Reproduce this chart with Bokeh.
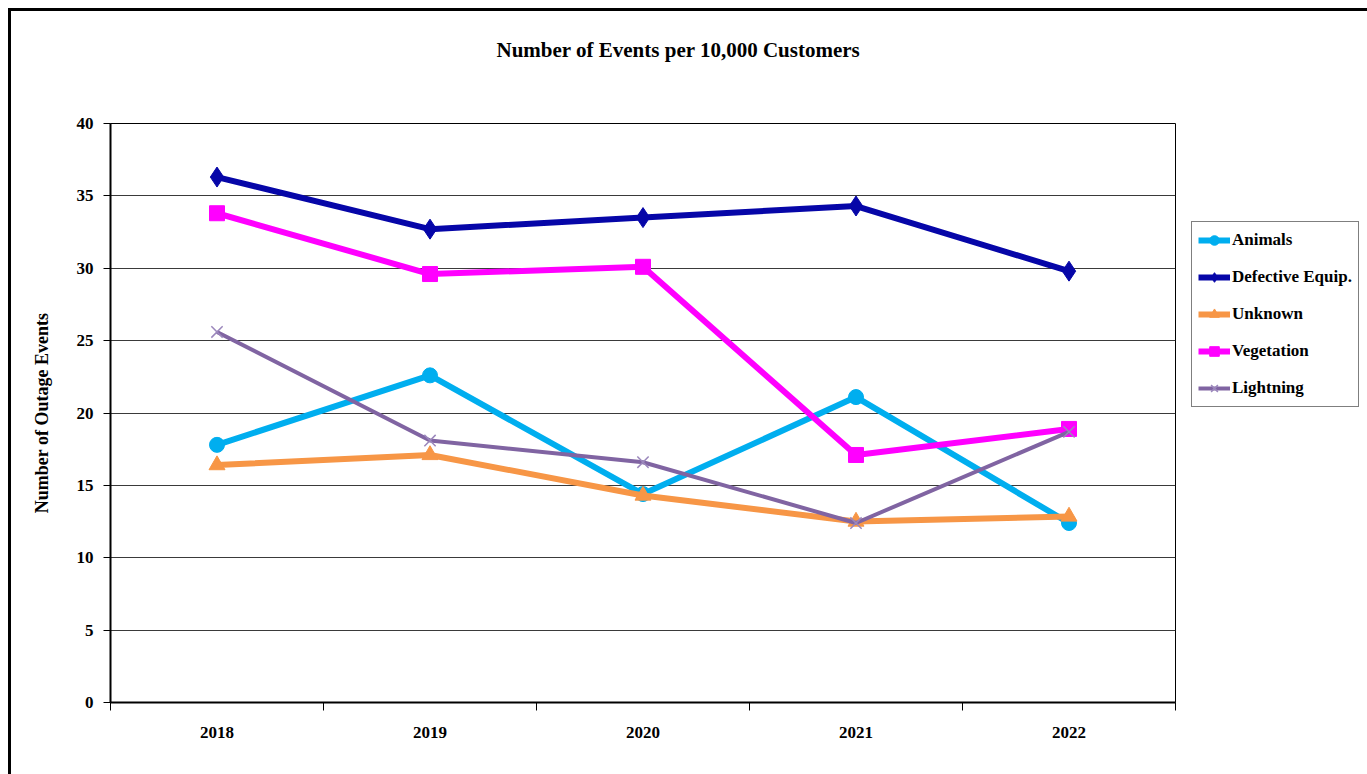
from bokeh.plotting import figure
from bokeh.layouts import row, column
from bokeh.models import Range1d, FixedTicker, Legend, LegendItem, Label
from bokeh.embed import file_html
from bokeh.resources import INLINE

years = [2018, 2019, 2020, 2021, 2022]
animals = [17.8, 22.6, 14.4, 21.1, 12.4]
defective = [36.3, 32.7, 33.5, 34.3, 29.8]
unknown = [16.4, 17.1, 14.3, 12.5, 12.85]
vegetation = [33.8, 29.6, 30.1, 17.1, 18.9]
lightning = [25.6, 18.1, 16.6, 12.4, 18.7]

series = [
    ("Animals", animals, "#00AEEF", "circle", 15, 6),
    ("Defective Equip.", defective, "#0606A8", "diamond", 20, 6),
    ("Unknown", unknown, "#F79646", "triangle", 16, 6),
    ("Vegetation", vegetation, "#FF00FF", "square", 15, 6),
    ("Lightning", lightning, "#8064A2", "x", 16, 4),
]

SERIF = "Liberation Serif"
TOP_H = 60

# strip carrying the chart sub-title
t = figure(width=1356, height=TOP_H, output_backend="svg", toolbar_location=None,
           x_range=Range1d(0, 1), y_range=Range1d(0, 1), min_border=0)
t.axis.visible = False
t.grid.visible = False
t.outline_line_color = None
t.border_fill_color = "white"
t.background_fill_color = "white"
t.add_layout(Label(x=667, y=22, x_units="screen", y_units="screen",
                   text="Number of Events per 10,000 Customers",
                   text_font=SERIF, text_font_style="bold", text_font_size="21px",
                   text_align="center", text_baseline="middle", text_color="black"))

p = figure(width=1180, height=763 - TOP_H, output_backend="svg", toolbar_location=None,
           x_range=Range1d(years[0] - 0.5, years[-1] + 0.5), y_range=Range1d(0, 40),
           min_border_left=99, min_border_right=16, min_border_top=112 - TOP_H,
           min_border_bottom=72)
p.outline_line_color = "black"
p.outline_line_width = 1
p.background_fill_color = "white"
p.border_fill_color = "white"

p.xgrid.visible = False
p.ygrid.ticker = FixedTicker(ticks=list(range(0, 41, 5)))
p.ygrid.grid_line_color = "#3a3a3a"
p.ygrid.grid_line_width = 1.2

# x axis: labels at year centres, ticks at boundaries
p.xaxis.ticker = FixedTicker(ticks=years, minor_ticks=[y - 0.5 for y in years] + [years[-1] + 0.5])
p.xaxis.major_tick_out = 0
p.xaxis.major_tick_in = 0
p.xaxis.minor_tick_out = 8
p.xaxis.minor_tick_in = 0
p.xaxis.minor_tick_line_color = "black"
p.xaxis.minor_tick_line_width = 1
p.xaxis.axis_line_color = "black"
p.xaxis.axis_line_width = 2
p.xaxis.major_label_standoff = 16
p.xaxis.major_label_text_font = SERIF
p.xaxis.major_label_text_font_style = "bold"
p.xaxis.major_label_text_font_size = "17px"
p.xaxis.major_label_text_color = "black"

p.yaxis.ticker = FixedTicker(ticks=list(range(0, 41, 5)))
p.yaxis.major_tick_out = 7
p.yaxis.major_tick_in = 0
p.yaxis.minor_tick_out = 0
p.yaxis.minor_tick_in = 0
p.yaxis.major_tick_line_color = "black"
p.yaxis.axis_line_color = "black"
p.yaxis.axis_line_width = 2
p.yaxis.major_label_standoff = 10
p.yaxis.major_label_text_font = SERIF
p.yaxis.major_label_text_font_style = "bold"
p.yaxis.major_label_text_font_size = "17px"
p.yaxis.major_label_text_color = "black"
p.yaxis.axis_label = "Number of Outage Events"
p.yaxis.axis_label_text_font = SERIF
p.yaxis.axis_label_text_font_style = "bold"
p.yaxis.axis_label_text_font_size = "18px"
p.yaxis.axis_label_text_color = "black"
p.yaxis.axis_label_standoff = 22

# separate small canvas that only carries the legend (right of the plot box)
q = figure(width=176, height=763 - TOP_H, output_backend="svg", toolbar_location=None,
           x_range=Range1d(0, 1), y_range=Range1d(0, 1), min_border=0)
q.axis.visible = False
q.grid.visible = False
q.outline_line_color = None
q.border_fill_color = "white"
q.background_fill_color = "white"

items = []
for name, vals, color, marker, size, lw in series:
    rs = []
    for fig in (p, q):
        a = fig.line(years, vals, line_color=color, line_width=lw)
        if marker == "x":
            b = fig.scatter(years, vals, marker="x", size=size, line_color="#9B87BC", line_width=1.5)
        else:
            b = fig.scatter(years, vals, marker=marker, size=size, fill_color=color, line_color=color)
        rs = [a, b]
    items.append(LegendItem(label=name, renderers=rs))

legend = Legend(items=items, location=(0, 295), orientation="vertical")
legend.label_text_font = SERIF
legend.label_text_font_style = "bold"
legend.label_text_font_size = "17px"
legend.label_text_color = "black"
legend.border_line_color = "black"
legend.border_line_width = 1
legend.background_fill_color = "white"
legend.background_fill_alpha = 1
legend.padding = 6
legend.margin = 0
legend.spacing = 13
legend.label_height = 24
legend.glyph_height = 24
legend.glyph_width = 32
legend.label_standoff = 2
q.add_layout(legend, "center")

layout = column(t, row(p, q, spacing=0), spacing=0)
layout.styles = {"margin-left": "8px", "margin-top": "8px",
                 "border-left": "3px solid black", "border-top": "3px solid black"}

open("out.html", "w").write(file_html(layout, INLINE))
